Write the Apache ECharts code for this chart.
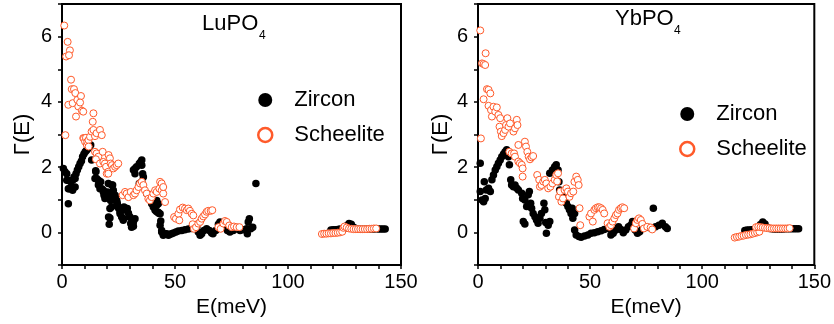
<!DOCTYPE html>
<html>
<head>
<meta charset="utf-8">
<script src="https://cdn.jsdelivr.net/npm/echarts@6/dist/echarts.min.js"></script>
<style>
html, body { margin: 0; padding: 0; background: #fff; }
#chart { width: 834px; height: 324px; }
</style>
</head>
<body>
<div id="chart"></div>
<script>
// tick positions
let xLabels = [0, 50, 100, 150];
let xTickVals = [0, 10, 20, 30, 40, 50, 60, 70, 80, 90, 100, 110, 120, 130, 140, 150];
let yLabels = [0, 2, 4, 6];
let yTickVals = [-1, 0, 1, 2, 3, 4, 5, 6, 7];

// LuPO4 panel, [E (meV), Gamma(E)]
let luZircon = [
    [0.6,1.96],[1.3,1.86],[2.1,1.8],[2.1,1.6],[2.8,1.6],[2.8,1.34],[3.2,1.34],[2.8,0.88],[3.8,1.55],[4.3,1.39],
    [4.7,1.6],[4.7,1.29],[5.3,1.7],[5.8,1.39],[5.8,1.65],[6.2,1.8],[6.8,1.91],[7.4,2.01],[8.0,2.11],[8.6,2.19],
    [9.1,2.32],[9.7,2.4],[10.3,2.47],[10.9,2.52],[11.5,2.57],[12.1,2.63],[12.7,2.68],[13.1,2.22],[14.9,1.89],[15.0,1.86],
    [14.6,1.65],[15.3,1.65],[16.1,1.6],[16.1,1.45],[16.5,1.5],[16.8,1.34],[17.1,1.55],[17.6,1.34],[18.3,1.29],[18.3,1.24],
    [18.6,1.14],[19.0,1.04],[19.5,1.08],[19.8,1.19],[20.1,1.24],[20.5,1.5],[21.2,1.19],[21.5,0.98],[21.9,0.78],[21.2,0.73],
    [21.2,0.44],[20.6,0.47],[20.9,0.25],[22.0,1.45],[22.4,1.45],[22.7,1.29],[22.7,1.19],[23.5,1.14],[23.5,1.08],[24.2,0.98],
    [24.2,0.93],[24.5,0.88],[24.9,0.78],[25.1,0.73],[25.7,0.62],[25.7,0.57],[26.4,0.47],[27.1,0.42],[27.1,0.37],[27.4,0.78],
    [28.3,0.68],[28.6,0.73],[28.9,0.73],[29.4,0.59],[29.8,0.47],[30.1,0.47],[30.4,0.27],[30.8,0.29],[30.8,0.16],[31.6,0.19],
    [31.6,0.32],[32.3,0.42],[31.6,1.91],[32.3,1.8],[32.3,1.96],[33.0,2.01],[34.2,2.11],[34.8,2.16],[35.3,2.22],[35.3,2.06],
    [35.7,1.8],[34.2,1.5],[35.3,1.55],[36.0,1.7],[37.5,1.19],[38.6,1.04],[38.9,1.14],[39.7,0.88],[40.4,0.98],[40.4,0.78],
    [41.2,0.68],[41.9,0.83],[41.9,0.63],[42.6,0.62],[42.8,0.59],[43.4,0.57],[42.6,0.88],[41.9,0.98],[43.4,0.22],[43.7,0.35],
    [44.1,0.06],[44.1,0.01],[44.8,-0.09],[45.6,-0.04],[46.3,-0.04],[47.1,-0.09],[47.8,-0.06],[48.5,-0.04],[49.3,-0.02],[50.4,0.01],
    [51.5,0.04],[53.0,0.06],[54.4,0.08],[55.9,0.1],[57.4,0.12],[58.4,0.14],[59.6,0.16],[60.3,0.01],[61.1,-0.09],[61.8,-0.04],
    [62.8,0.06],[64.0,0.11],[65.2,0.06],[66.2,-0.02],[66.8,-0.04],[68.0,0.06],[69.2,0.25],[69.9,0.32],[71.1,0.27],[72.1,0.16],
    [73.2,0.06],[74.3,0.01],[75.8,0.06],[77.3,0.11],[78.8,0.06],[80.2,0.08],[81.7,0.11],[82.4,0.32],[82.9,0.42],[83.5,0.11],
    [82.0,-0.04],[84.4,0.16],[85.8,1.5],
    [119,0.07],[120,0.08],[121,0.08],[122,0.09],[123,0.1],[124,0.1],[125,0.12],[126,0.2],[127,0.27],[128,0.25],
    [129,0.16],[130,0.12],[131,0.11],[132,0.1],[133,0.1],[134,0.1],[135,0.11],[136,0.1],[137,0.1],[138,0.1],
    [139,0.11],[140,0.1],[141,0.1],[142,0.1],[143,0.1]
];
let luScheelite = [
    [1.0,6.34],[2.5,5.84],[3.5,5.58],[1.8,5.39],[3.1,5.43],[1.5,2.98],[4.0,4.68],[4.3,4.39],[5.3,4.39],[2.8,3.91],
    [4.7,3.96],[5.9,4.27],[6.2,3.55],[6.8,4.06],[7.2,3.86],[8.4,4.18],[8.0,3.98],[8.8,3.73],[9.4,3.7],[9.4,2.89],
    [9.7,2.88],[10.2,2.78],[10.6,2.9],[11.0,2.68],[11.2,2.78],[11.7,2.83],[11.8,2.63],[12.4,2.93],[13.1,3.09],[13.9,3.14],
    [14.6,2.95],[15.3,3.04],[13.9,3.65],[13.6,3.39],[16.8,3.14],[17.6,2.98],[14.6,2.47],[15.3,2.42],[16.1,2.32],[15.0,2.24],
    [16.8,2.11],[18.0,2.47],[18.3,2.16],[19.0,2.11],[19.5,2.01],[19.8,1.8],[20.5,1.86],[20.6,2.37],[21.2,2.27],[21.5,2.11],
    [22.1,2.06],[22.7,1.96],[23.5,2.01],[24.2,2.06],[24.9,2.11],[20.5,1.8],
    [26.8,1.14],[27.9,1.24],[28.6,1.19],[29.4,1.08],[30.4,1.24],[31.6,1.14],[32.3,1.19],[33.0,1.29],[33.8,1.39],[34.5,1.5],
    [35.3,1.55],[36.0,1.45],[36.7,1.29],[37.5,1.19],[38.2,1.03],[38.9,0.98],[39.7,1.08],[40.4,1.19],[41.2,1.29],[41.9,1.24],
    [43.1,1.34],[44.1,1.29],[44.8,1.19],[43.4,1.55],[44.1,1.5],[44.8,1.39],[45.6,0.93],
    [49.6,0.47],[50.4,0.42],[51.5,0.57],[52.2,0.7],[53.4,0.76],[54.4,0.73],[55.2,0.68],[55.9,0.73],[56.6,0.66],[57.4,0.57],
    [58.1,0.52],[51.9,0.37],[57.8,0.25],[58.4,0.11],[59.3,0.16],[60.3,0.27],[61.1,0.32],[61.8,0.42],[62.5,0.49],[63.3,0.55],
    [64.0,0.63],[64.7,0.66],[65.8,0.66],[66.5,0.68],
    [69.2,0.16],[70.2,0.11],[71.4,0.27],[72.1,0.35],[72.9,0.32],[74.0,0.21],[75.1,0.16],[76.1,0.18],[77.3,0.16],[78.5,0.16],
    [115,-0.05],[116,-0.04],[117,-0.04],[118,-0.03],[119,-0.03],[120,-0.02],[121,-0.02],[122,-0.01],[123,0.0],[124,0.02],
    [124.5,0.14],[125,0.18],[126,0.15],[127,0.12],[128,0.11],[129,0.1],[130,0.1],[131,0.1],[132,0.1],[133,0.1],
    [134,0.1],[135,0.1],[136,0.11],[137,0.11],[138,0.12],[139,0.12]
];

// YbPO4 panel
let ybZircon = [
    [1.0,2.12],[1.0,1.25],[1.8,0.99],[2.5,0.94],[3.2,1.04],[2.8,1.55],[3.7,1.3],[4.7,1.35],[5.5,1.25],[6.2,1.61],
    [6.9,1.76],[7.7,1.91],[8.4,2.01],[9.1,2.12],[9.9,2.22],[10.6,2.32],[11.4,2.4],[12.1,2.47],[12.8,2.53],[13.6,2.32],
    [14.0,2.07],[14.6,1.61],[15.0,1.45],[15.8,1.4],[16.5,1.45],[17.3,1.35],[18.0,1.3],[19.5,1.2],[19.9,1.04],[20.9,0.99],
    [21.7,0.79],[22.4,1.15],[22.9,1.25],[23.5,0.89],[23.9,0.74],[24.6,0.58],[25.4,0.48],[26.1,0.38],[26.8,0.28],[27.6,0.43],
    [28.3,0.58],[20.2,0.33],[20.9,0.26],[29.4,0.89],[29.8,0.69],[30.2,0.3],[30.5,-0.03],[31.3,0.22],[32.0,0.33],[32.0,1.81],
    [33.2,1.91],[34.2,2.01],[34.9,2.07],[35.7,1.91],[36.1,1.55],[36.4,1.3],[37.2,1.25],[37.9,1.09],[38.6,0.99],[39.4,0.89],
    [40.1,0.79],[40.8,0.69],[41.5,0.58],[42.3,0.43],[43.1,0.58],[42.0,0.74],
    [43.1,0.07],[43.8,-0.08],[45.0,-0.13],[46.0,-0.15],[47.5,-0.11],[49.0,-0.08],[50.4,-0.03],[51.9,-0.01],[53.4,0.02],[54.9,0.05],
    [56.3,0.09],[57.8,0.12],[59.3,-0.08],[60.3,-0.03],[61.5,0.07],[62.7,0.17],[63.7,0.09],[64.8,-0.01],[65.9,0.07],[67.1,0.17],
    [68.1,0.22],[68.9,0.33],[70.1,0.07],[71.1,-0.03],[72.1,0.02],[73.3,0.12],[74.8,0.17],[76.2,0.15],[77.7,0.12],[79.2,0.17],
    [80.7,0.22],[82.2,0.28],[83.6,0.17],[84.4,0.12],[78.2,0.74],
    [119,0.06],[120,0.07],[121,0.07],[122,0.08],[123,0.09],[124,0.1],[125,0.14],[126,0.24],[127,0.32],[128,0.26],
    [129,0.15],[130,0.12],[131,0.11],[132,0.1],[133,0.1],[134,0.1],[135,0.1],[136,0.1],[137,0.11],[138,0.11],
    [139,0.11],[140,0.11],[141,0.11],[142,0.11],[143,0.11]
];
let ybScheelite = [
    [1.0,6.19],[1.3,2.88],[3.4,5.49],[1.8,5.18],[2.5,5.16],[3.2,5.13],[2.5,4.08],[4.0,4.39],[4.7,4.37],[5.5,4.26],
    [4.7,3.88],[5.8,3.75],[6.2,3.55],[6.9,3.85],[7.7,3.7],[8.4,3.83],[9.1,3.6],[9.9,3.5],[9.6,3.24],[10.2,3.09],
    [10.6,2.95],[11.4,3.04],[12.1,3.14],[12.5,3.29],[13.1,3.5],[13.6,3.24],[14.3,3.34],[15.8,3.09],[16.5,3.19],[17.3,3.45],
    [17.6,3.29],[14.0,2.47],[15.0,2.42],[16.1,2.42],[16.5,2.32],[18.0,2.68],[18.0,2.17],[18.7,2.12],[19.5,2.07],[19.9,1.96],
    [19.9,1.71],[20.9,2.78],[21.4,2.63],[22.0,2.47],[22.6,2.32],[23.2,2.24],[23.9,2.3],[24.6,2.34],
    [26.4,1.76],[27.3,1.61],[27.6,1.4],[28.3,1.45],[29.1,1.56],[29.8,1.61],[30.5,1.5],[31.3,1.35],[32.3,1.4],[33.2,1.5],
    [34.2,1.61],[34.9,1.76],[35.7,1.81],[35.3,1.56],[36.1,1.09],[36.7,1.25],[37.2,0.94],[37.9,1.04],[38.6,1.3],[39.4,1.35],
    [40.1,1.25],[40.8,1.09],[41.5,1.2],[42.5,1.25],[43.0,1.55],[43.8,1.71],[44.5,1.61],[44.9,1.45],[45.3,0.74],[45.6,0.22],
    [49.7,0.48],[50.4,0.58],[51.2,0.33],[51.9,0.69],[52.6,0.74],[53.4,0.77],[54.1,0.77],[54.9,0.74],[55.6,0.69],[56.3,0.58],
    [57.8,0.28],[58.6,0.17],[59.3,0.22],[60.0,0.33],[60.8,0.43],[61.5,0.53],[62.2,0.58],[62.9,0.69],[63.7,0.74],[64.4,0.77],
    [65.2,0.74],[69.6,0.12],[70.4,0.28],[71.1,0.38],[71.8,0.43],[72.6,0.38],[73.3,0.26],[74.0,0.12],[75.5,0.17],[77.0,0.15],
    [77.7,0.09],
    [114.5,-0.16],[115.5,-0.14],[116.5,-0.13],[117.5,-0.11],[118.5,-0.1],[119.5,-0.08],[120.5,-0.07],[121.5,-0.06],[122.5,-0.04],[123.5,-0.02],
    [124.5,0.0],[125.5,0.02],[124,0.16],[125,0.17],[126,0.16],[127,0.15],[128,0.14],[129,0.13],[130,0.13],[131,0.12],
    [132,0.12],[133,0.12],[134,0.12],[135,0.12],[136,0.12],[137,0.12],[138,0.12],[139,0.13]
];

let orange = '#ff5a2a';
let fontFam = '"Liberation Sans", Arial, sans-serif';

function makeX(gi) {
    return {
        gridIndex: gi, type: 'value', min: 0, max: 150, interval: 10,
        axisLine: { show: true, onZero: false, lineStyle: { color: '#000', width: 2 } },
        axisTick: { show: true, inside: false, length: 4, customValues: xTickVals, lineStyle: { color: '#000', width: 1.5 } },
        axisLabel: { customValues: xLabels, fontSize: 20, color: '#000', margin: 7, fontFamily: fontFam },
        splitLine: { show: false },
        name: 'E(meV)', nameLocation: 'middle', nameGap: 30,
        nameTextStyle: { fontSize: 21, color: '#000', fontFamily: fontFam }
    };
}
function makeY(gi, gap) {
    return {
        gridIndex: gi, type: 'value', min: -1, max: 7, interval: 1,
        axisLine: { show: true, onZero: false, lineStyle: { color: '#000', width: 2 } },
        axisTick: { show: true, inside: false, length: 4, customValues: yTickVals, lineStyle: { color: '#000', width: 1.5 } },
        axisLabel: { customValues: yLabels, fontSize: 20, color: '#000', margin: 10, fontFamily: fontFam },
        splitLine: { show: false },
        name: 'Γ(E)', nameLocation: 'middle', nameGap: gap,
        nameTextStyle: { fontSize: 22, color: '#000', fontFamily: fontFam }
    };
}
function zircon(gi, data) {
    return {
        type: 'scatter', name: 'Zircon', xAxisIndex: gi, yAxisIndex: gi, data: data,
        symbol: 'circle', symbolSize: 7.5, itemStyle: { color: '#000', opacity: 1 }, z: 2
    };
}
function scheelite(gi, data) {
    return {
        type: 'scatter', name: 'Scheelite', xAxisIndex: gi, yAxisIndex: gi, data: data,
        symbol: 'circle', symbolSize: 7,
        itemStyle: { color: '#fff', borderColor: orange, borderWidth: 1, opacity: 1 }, z: 3
    };
}
function makeLegend(left, top) {
    return {
        orient: 'vertical', left: left, top: top, itemWidth: 14, itemHeight: 14, itemGap: 13,
        selectedMode: false,
        textStyle: { fontSize: 22, color: '#000', fontFamily: fontFam, padding: [0, 0, 0, 17] },
        data: [
            { name: 'Zircon', icon: 'circle', itemStyle: { color: '#000', opacity: 1 } },
            { name: 'Scheelite', icon: 'circle', itemStyle: { color: '#fff', borderColor: orange, borderWidth: 2.5, opacity: 1 } }
        ]
    };
}

let chart = echarts.init(document.getElementById('chart'));
let option = {
    animation: false,
    backgroundColor: '#fff',
    grid: [
        { left: 62, top: 4, width: 339, height: 261, show: true, borderColor: '#000', borderWidth: 2 },
        { left: 478, top: 4, width: 339, height: 261, show: true, borderColor: '#000', borderWidth: 2 }
    ],
    xAxis: [makeX(0), makeX(1)],
    yAxis: [makeY(0, 28), makeY(1, 26)],
    legend: [makeLegend(252, 84), makeLegend(674, 98)],
    graphic: [
        { type: 'text', left: 202, top: 13, style: { text: 'LuPO', fontSize: 22, fill: '#000', fontFamily: fontFam } },
        { type: 'text', left: 259, top: 30, style: { text: '4', fontSize: 12, fill: '#000', fontFamily: fontFam } },
        { type: 'text', left: 615, top: 8, style: { text: 'YbPO', fontSize: 22, fill: '#000', fontFamily: fontFam } },
        { type: 'text', left: 674, top: 25, style: { text: '4', fontSize: 12, fill: '#000', fontFamily: fontFam } }
    ],
    series: [
        zircon(0, luZircon), scheelite(0, luScheelite),
        zircon(1, ybZircon), scheelite(1, ybScheelite)
    ]
};
chart.setOption(option);
</script>
</body>
</html>
